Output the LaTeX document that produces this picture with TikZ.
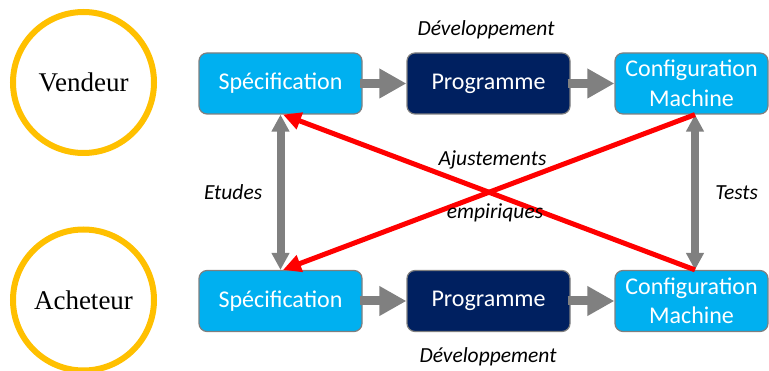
\documentclass[tikz,border=0pt]{standalone}
\usepackage{fontspec}
\setmainfont{Carlito}
\newfontfamily\actorfont{Liberation Serif}
\usetikzlibrary{arrows.meta, positioning, calc}

\definecolor{boxblue}{HTML}{00B0F0}
\definecolor{boxnavy}{HTML}{002060}
\definecolor{ringgold}{HTML}{FFC000}
\definecolor{arrowgray}{HTML}{808080}
\definecolor{edgegray}{HTML}{7F7F7F}

\tikzset{
  ActorCircle/.style={circle, draw=ringgold, line width=6pt, fill=white, minimum size=141pt, inner sep=0pt, font=\actorfont\fontsize{27}{32}\selectfont},
  StepBox/.style={rectangle, rounded corners=8pt, draw=edgegray, line width=1.2pt, text=white, text centered, align=center, inner sep=0pt, minimum height=61pt, minimum width=163pt, font=\fontsize{24}{29.5}\selectfont},
  BlueBox/.style={StepBox, fill=boxblue},
  NavyBox/.style={StepBox, fill=boxnavy},
  LabelText/.style={font=\itshape\fontsize{21.5}{25}\selectfont},
  FlowArrow/.style={draw=arrowgray, line width=9pt, shorten <=-3pt, -{Triangle[length=27pt, width=28pt]}},
  LinkArrow/.style={draw=arrowgray, line width=8pt, {Triangle[length=17pt, width=17pt]}-{Triangle[length=17pt, width=17pt]}},
  FeedbackArrow/.style={draw=red, line width=5pt, -{Triangle[length=18pt, width=17pt]}}
}

\begin{document}
\begin{tikzpicture}[x=1pt, y=-1pt]
    \useasboundingbox (0,0) rectangle (769,371);

    % Vendeur row
    \node (Vendeur) at (83.5,82.5) [ActorCircle]{Vendeur};
    \node (SpecVendeur) at (280.5,83.5) [BlueBox]{Spécification};
    \node (ProgVendeur) at ($(SpecVendeur)+(208,0)$) [NavyBox]{Programme};
    \node (ConfVendeur) at ($(SpecVendeur)+(411,0)$) [BlueBox, minimum width=153pt]{Configuration\\Machine};
    \node (DevVendeur) at ($(ProgVendeur)+(-2.5,-54)$) [LabelText]{Développement};

    \draw[FlowArrow] (SpecVendeur.east) -- (ProgVendeur.west);
    \draw[FlowArrow] (ProgVendeur.east) -- (ConfVendeur.west);

    % Acheteur row
    \node (Acheteur) at ($(Vendeur)+(0,217.5)$) [ActorCircle]{Acheteur};
    \node (SpecAcheteur) at ($(SpecVendeur)+(0,217.5)$) [BlueBox]{Spécification};
    \node (ProgAcheteur) at ($(SpecAcheteur)+(208,0)$) [NavyBox]{Programme};
    \node (ConfAcheteur) at ($(SpecAcheteur)+(411,0)$) [BlueBox, minimum width=153pt]{Configuration\\Machine};
    \node (DevAcheteur) at ($(ProgAcheteur)+(-0.5,56)$) [LabelText]{Développement};

    \draw[FlowArrow] (SpecAcheteur.east) -- (ProgAcheteur.west);
    \draw[FlowArrow] (ProgAcheteur.east) -- (ConfAcheteur.west);

    % Links between rows
    \draw[LinkArrow] (SpecVendeur.south) -- node[LabelText, left=11pt]{Etudes} (SpecAcheteur.north);
    \draw[LinkArrow] ($(ConfVendeur.south)+(3.5,0)$) -- node[LabelText, right=13pt]{Tests} ($(ConfAcheteur.north)+(3.5,0)$);

    % Ajustements empiriques
    \draw[FeedbackArrow] ($(ConfAcheteur.north)+(3.5,0)$) -- ($(SpecVendeur.south)+(2.5,0)$);
    \draw[FeedbackArrow] ($(ConfVendeur.south)+(3.5,0)$) -- ($(SpecAcheteur.north)+(2.5,0)$);
    \node (Ajustements) at (492.5,160) [LabelText]{Ajustements};
    \node (Empiriques) at (495,213) [LabelText]{empiriques};
\end{tikzpicture}
\end{document}
